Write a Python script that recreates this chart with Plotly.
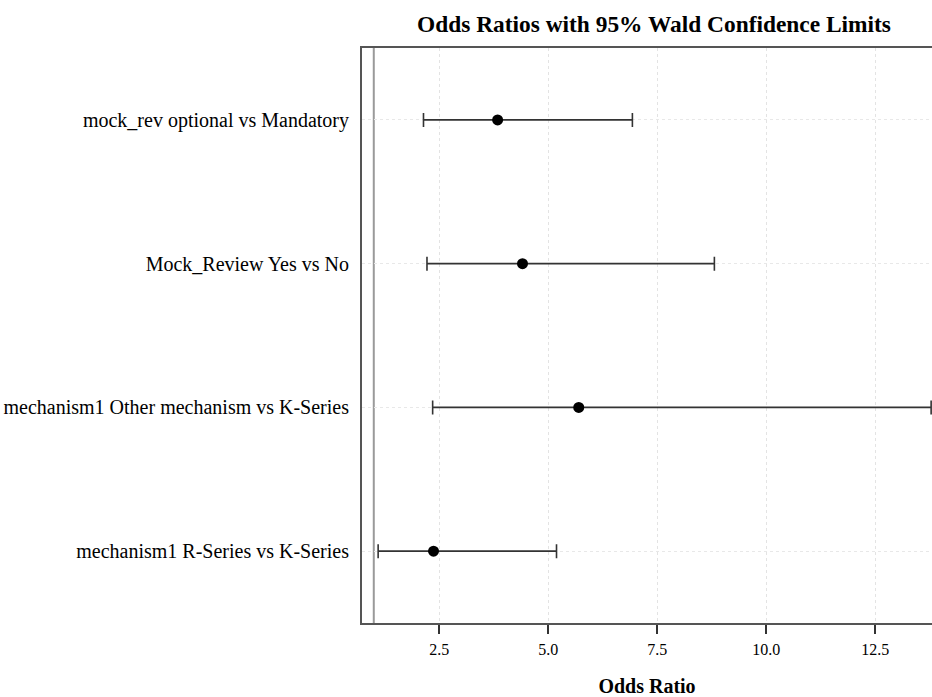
import plotly.graph_objects as go

labels = [
    "mock_rev optional vs Mandatory",
    "Mock_Review Yes vs No",
    "mechanism1 Other mechanism vs K-Series",
    "mechanism1 R-Series vs K-Series",
]
odds_ratio = [3.84, 4.41, 5.70, 2.37]
lower_cl = [2.14, 2.22, 2.35, 1.10]
upper_cl = [6.93, 8.81, 13.78, 5.19]
x_ticks = [2.5, 5.0, 7.5, 10.0, 12.5]
x_tick_text = ["2.5", "5.0", "7.5", "10.0", "12.5"]

serif = "Liberation Serif, Times New Roman, serif"

fig = go.Figure()
fig.add_trace(go.Scatter(
    x=odds_ratio,
    y=labels,
    mode="markers",
    marker=dict(color="black", size=11),
    error_x=dict(
        type="data",
        symmetric=False,
        array=[u - o for u, o in zip(upper_cl, odds_ratio)],
        arrayminus=[o - l for o, l in zip(odds_ratio, lower_cl)],
        color="#333333",
        thickness=1.6,
        width=7,
    ),
    showlegend=False,
    cliponaxis=True,
))

fig.add_shape(type="line", xref="x", yref="paper", x0=1, x1=1, y0=0, y1=1,
              line=dict(color="#9a9a9a", width=2), layer="below")

fig.update_layout(
    width=932, height=697,
    margin=dict(l=362, r=0, t=48, b=74, autoexpand=False),
    paper_bgcolor="white", plot_bgcolor="white",
    title=dict(text="<b>Odds Ratios with 95% Wald Confidence Limits</b>",
               x=0.7017, xanchor="center", xref="container",
               y=0.9656, yanchor="middle", yref="container",
               font=dict(family=serif, size=23.4, color="black")),
    xaxis=dict(
        range=[0.73, 13.8],
        tickvals=x_ticks, ticktext=x_tick_text,
        ticks="outside", ticklen=9, tickcolor="#333333", tickwidth=1.5,
        ticklabelstandoff=2,
        showline=True, linecolor="#555555", linewidth=2, mirror=True,
        showgrid=True, gridcolor="#e3e3e3", griddash="dot", gridwidth=1,
        zeroline=False,
        automargin=False,
        tickfont=dict(family=serif, size=16, color="black"),
        title=dict(text="<b>Odds Ratio</b>", standoff=28,
                   font=dict(family=serif, size=20, color="black")),
    ),
    yaxis=dict(
        type="category",
        categoryorder="array", categoryarray=labels,
        range=[3.5, -0.5],
        showline=True, linecolor="#555555", linewidth=2,
        showgrid=True, gridcolor="#e8e8e8", griddash="dot", gridwidth=1,
        ticks="", ticklabelstandoff=7,
        automargin=False,
        tickfont=dict(family=serif, size=20, color="black"),
        zeroline=False,
    ),
)

fig.write_html(
    "out.html",
    config={"displayModeBar": False},
    post_script="document.body.style.margin='0';document.body.style.overflow='hidden';",
)
